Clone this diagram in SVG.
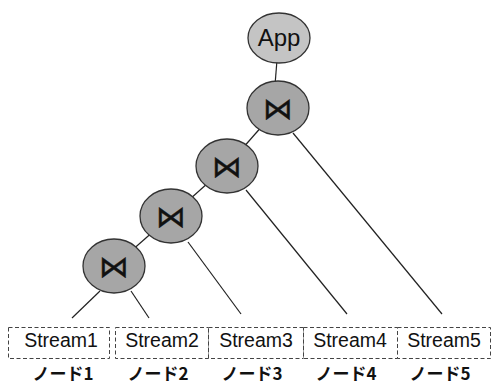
<svg xmlns="http://www.w3.org/2000/svg" width="492" height="385" viewBox="0 0 492 385">
<style>
.edge{stroke:#222;stroke-width:1.2;fill:none}
.join{fill:#a6a6a6;stroke:#333;stroke-width:1.3}
.app{fill:#c4c4c4;stroke:#333;stroke-width:1.3}
.sym{font-family:"DejaVu Sans",sans-serif;font-size:30px;fill:#111;text-anchor:middle;stroke:#111;stroke-width:0.4}
.box{fill:#fff;stroke:#444;stroke-width:1;stroke-dasharray:4,2.5}
.st{font-family:"Liberation Sans",Arial,sans-serif;font-size:19.5px;fill:#111;text-anchor:middle}
.nd{font-family:"Noto Sans CJK JP",sans-serif;font-size:17px;font-weight:bold;fill:#111;text-anchor:middle}
</style>
<rect width="492" height="385" fill="#fff"/>
<g id="connectors">
<line class="edge" x1="277" y1="60" x2="275" y2="85"/>
<line class="edge" x1="278" y1="108" x2="227" y2="166"/>
<line class="edge" x1="227" y1="166" x2="171" y2="216"/>
<line class="edge" x1="171" y1="216" x2="114" y2="266"/>
<line class="edge" x1="293" y1="133" x2="442" y2="314"/>
<line class="edge" x1="246" y1="190" x2="347" y2="314"/>
<line class="edge" x1="188" y1="242" x2="241" y2="314"/>
<line class="edge" x1="100" y1="291" x2="72" y2="318"/>
<line class="edge" x1="131" y1="291" x2="149" y2="318"/>
</g>
<g id="app"><ellipse class="app" cx="279" cy="38" rx="31" ry="25"/><text x="279" y="46" font-family="Liberation Sans,Arial,sans-serif" font-size="24" text-anchor="middle" fill="#111">App</text></g>
<g id="join1"><ellipse class="join" cx="278" cy="108" rx="31" ry="27"/><text class="sym" x="278" y="119">⋈</text></g>
<g id="join2"><ellipse class="join" cx="227" cy="166" rx="31" ry="27"/><text class="sym" x="227" y="177">⋈</text></g>
<g id="join3"><ellipse class="join" cx="171" cy="216" rx="31" ry="27"/><text class="sym" x="171" y="227">⋈</text></g>
<g id="join4"><ellipse class="join" cx="114" cy="266" rx="31" ry="27"/><text class="sym" x="114" y="277">⋈</text></g>
<g id="stream1"><rect class="box" x="8.5" y="327.5" width="101" height="31"/><text class="st" x="61" y="347">Stream1</text><text class="nd" x="63" y="380">ノード1</text></g>
<g id="stream2"><rect class="box" x="115.5" y="327.5" width="93" height="31"/><text class="st" x="162" y="347">Stream2</text><text class="nd" x="158" y="380">ノード2</text></g>
<g id="stream3"><rect class="box" x="208.5" y="327.5" width="95" height="31"/><text class="st" x="256" y="347">Stream3</text><text class="nd" x="252" y="380">ノード3</text></g>
<g id="stream4"><rect class="box" x="303.5" y="327.5" width="94" height="31"/><text class="st" x="350" y="347">Stream4</text><text class="nd" x="346" y="380">ノード4</text></g>
<g id="stream5"><rect class="box" x="397.5" y="327.5" width="93" height="31"/><text class="st" x="444" y="347">Stream5</text><text class="nd" x="440" y="380">ノード5</text></g>
</svg>
